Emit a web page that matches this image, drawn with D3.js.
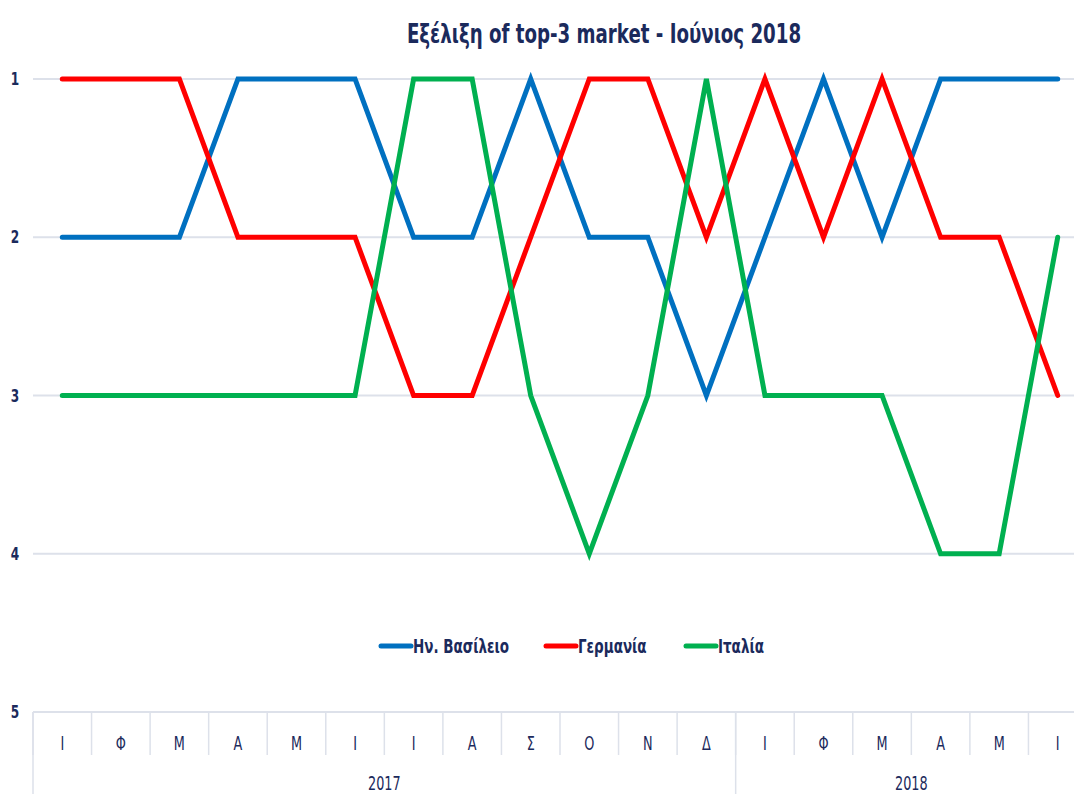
<!DOCTYPE html>
<html>
<head>
    <meta charset="utf-8">
    <title>Top-3 market</title>
    <script src="https://cdnjs.cloudflare.com/ajax/libs/d3/7.8.5/d3.min.js"></script>
    <style>
        body {
            margin: 0;
            background: white;
            font-family: "DejaVu Sans Condensed", "DejaVu Sans", sans-serif;
        }
        svg { display: block; }
        .title { font-size: 27px; font-weight: bold; fill: #1b2a5c; }
        .y-label { font-size: 18px; font-weight: bold; fill: #1b2a5c; }
        .cat-label { font-size: 19px; fill: #1b2a5c; }
        .legend-label { font-size: 20px; font-weight: bold; fill: #1b2a5c; }
        .grid { stroke: #dde1ea; stroke-width: 2; }
        .sep { stroke: #dde1ea; stroke-width: 1.5; }
    </style>
</head>
<body>
<div id="chart"></div>
<script>
    const months = ["Ι", "Φ", "Μ", "Α", "Μ", "Ι", "Ι", "Α", "Σ", "Ο", "Ν", "Δ",
                    "Ι", "Φ", "Μ", "Α", "Μ", "Ι"];
    const years = [{ label: "2017", count: 12 }, { label: "2018", count: 6 }];
    const ranks = [1, 2, 3, 4, 5];

    const seriesNames = ["Ην. Βασίλειο", "Γερμανία", "Ιταλία"];
    const seriesColors = ["#0070c0", "#ff0000", "#00b050"];
    const ukValues      = [2, 2, 2, 1, 1, 1, 2, 2, 1, 2, 2, 3, 2, 1, 2, 1, 1, 1];
    const germanyValues = [1, 1, 1, 2, 2, 2, 3, 3, 2, 1, 1, 2, 1, 2, 1, 2, 2, 3];
    const italyValues   = [3, 3, 3, 3, 3, 3, 1, 1, 3, 4, 3, 1, 3, 3, 3, 4, 4, 2];
    const seriesValues = [ukValues, germanyValues, italyValues];

    const W = 1074, H = 794;
    const squeeze = 0.75; // the reference font is narrow
    const svg = d3.select("#chart").append("svg")
        .attr("width", W)
        .attr("height", H);

    // text placed at (px, py), horizontally compressed
    function narrowText(sel, px, py) {
        return sel.attr("transform", (d, i) =>
            `translate(${typeof px === "function" ? px(d, i) : px},${typeof py === "function" ? py(d, i) : py}) scale(${squeeze},1)`);
    }

    const idx = months.map((m, i) => i);
    const x = d3.scaleBand()
        .domain(idx)
        .range([33, 1087]);

    const y = d3.scaleLinear()
        .domain([1, 5])
        .range([79, 712]);

    // title
    narrowText(svg.append("text")
        .attr("class", "title")
        .attr("text-anchor", "middle")
        .text("Εξέλιξη of top-3 market - Ιούνιος 2018"), 604, 43);

    // gridlines + y labels
    svg.selectAll(".grid")
        .data(ranks)
        .join("line")
        .attr("class", "grid")
        .attr("x1", 33)
        .attr("x2", W)
        .attr("y1", d => y(d))
        .attr("y2", d => y(d));

    narrowText(svg.selectAll(".y-label")
        .data(ranks)
        .join("text")
        .attr("class", "y-label")
        .attr("text-anchor", "middle")
        .text(d => d), 15, d => y(d) + 6);

    // category axis: month separators
    const axisY = y(5);
    svg.selectAll(".month-sep")
        .data(idx)
        .join("line")
        .attr("class", "sep")
        .attr("x1", d => x(d))
        .attr("x2", d => x(d))
        .attr("y1", axisY)
        .attr("y2", axisY + 43);

    narrowText(svg.selectAll(".cat-label")
        .data(months)
        .join("text")
        .attr("class", "cat-label")
        .attr("text-anchor", "middle")
        .text(d => d), (d, i) => x(i) + x.bandwidth() / 2, axisY + 38);

    // year separators + labels
    let start = 0;
    years.forEach(yr => {
        const x0 = x(start);
        const x1 = start + yr.count < months.length ? x(start + yr.count) : x.range()[1];
        svg.append("line")
            .attr("class", "sep")
            .attr("x1", x0).attr("x2", x0)
            .attr("y1", axisY).attr("y2", H);
        narrowText(svg.append("text")
            .attr("class", "cat-label")
            .attr("text-anchor", "middle")
            .text(yr.label), (x0 + x1) / 2, axisY + 78);
        start += yr.count;
    });

    // series lines
    const line = d3.line()
        .x((d, i) => x(i) + x.bandwidth() / 2)
        .y(d => y(d));

    seriesValues.forEach((vals, s) => {
        svg.append("path")
            .datum(vals)
            .attr("d", line)
            .attr("fill", "none")
            .attr("stroke", seriesColors[s])
            .attr("stroke-width", 5)
            .attr("stroke-linejoin", "miter")
            .attr("stroke-linecap", "round");
    });

    // legend
    const legendX = [381, 546, 686];
    seriesNames.forEach((name, s) => {
        const g = svg.append("g").attr("transform", `translate(${legendX[s]},646)`);
        g.append("line")
            .attr("x1", 0).attr("x2", 30)
            .attr("y1", 0).attr("y2", 0)
            .attr("stroke", seriesColors[s])
            .attr("stroke-width", 5)
            .attr("stroke-linecap", "round");
        narrowText(g.append("text")
            .attr("class", "legend-label")
            .text(name), 32, 7);
    });
</script>
</body>
</html>
